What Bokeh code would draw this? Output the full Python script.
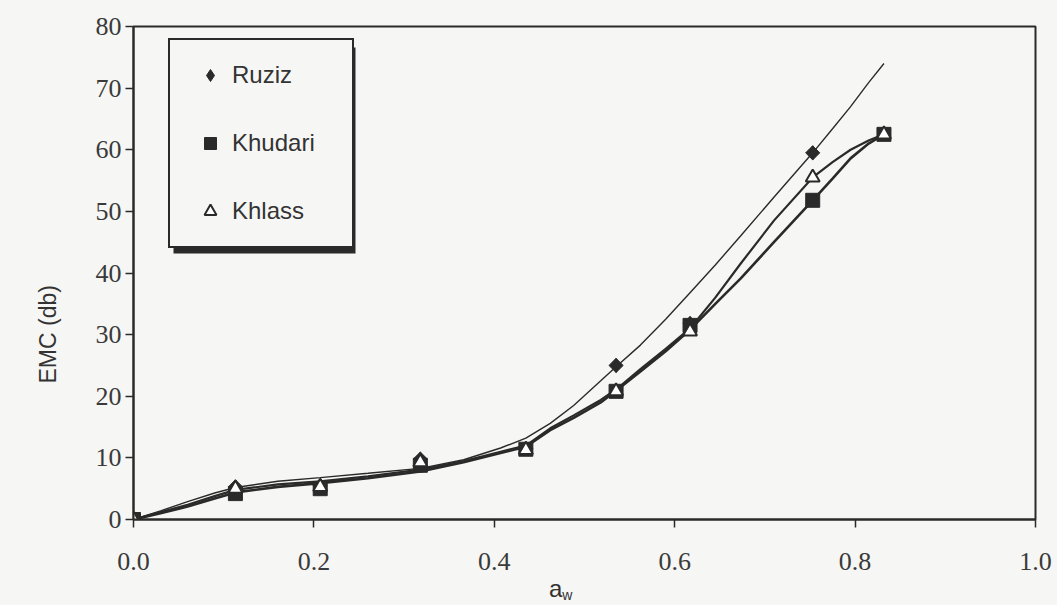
import math
from bokeh.plotting import figure
from bokeh.layouts import column
from bokeh.models import Legend, LegendItem, FixedTicker, BoxAnnotation, Range1d, Title, Div
from bokeh.embed import file_html
from bokeh.resources import INLINE

# ---- data ----
aw_points = [0.0, 0.113, 0.207, 0.318, 0.435, 0.535, 0.617, 0.753, 0.832]
ruziz_pts = [0.0, 5.3, 5.5, 9.8, 11.5, 25.0, 31.8, 59.5, float("nan")]
khudari_pts = [0.0, 4.2, 5.0, 8.8, 11.4, 20.8, 31.5, 51.8, 62.5]
khlass_pts = [0.0, 5.0, 5.3, 9.3, 11.3, 20.8, 30.5, 55.5, 62.5]

# fitted curves
aw_curve = [0.0, 0.03, 0.06, 0.09, 0.113, 0.16, 0.207, 0.26, 0.318, 0.366, 0.407,
            0.435, 0.462, 0.488, 0.518, 0.535, 0.562, 0.59, 0.617, 0.645, 0.673,
            0.71, 0.753, 0.775, 0.795, 0.815, 0.832]
ruziz_curve = [0.0, 1.4, 2.9, 4.3, 5.2, 6.2, 6.8, 7.5, 8.3, 9.7, 11.6,
               13.2, 15.6, 18.5, 22.5, 24.8, 28.3, 32.5, 36.8, 41.3, 46.0,
               52.3, 59.5, 63.4, 67.0, 70.9, 74.0]
khudari_curve = [0.0, 1.0, 2.1, 3.4, 4.4, 5.3, 5.9, 6.7, 7.8, 9.3, 10.8,
                 11.8, 14.5, 16.5, 19.0, 20.9, 24.0, 27.3, 30.8, 35.0, 39.1,
                 45.0, 51.8, 55.3, 58.6, 61.0, 62.5]
khlass_curve = [0.0, 1.2, 2.4, 3.8, 4.8, 5.7, 6.2, 7.0, 8.1, 9.5, 11.0,
                12.0, 14.8, 16.9, 19.4, 21.1, 24.4, 27.7, 31.0, 36.0, 41.5,
                48.5, 55.5, 58.0, 60.0, 61.5, 62.5]

series_names = ["Ruziz", "Khudari", "Khlass"]
x_ticks = [0.0, 0.2, 0.4, 0.6, 0.8, 1.0]
y_ticks = [0, 10, 20, 30, 40, 50, 60, 70, 80]
y_title = "EMC (db)"

BG = "#f6f6f4"
INK = "#2a2a2a"

p = figure(width=1057, height=582, output_backend="svg", toolbar_location=None,
           x_range=Range1d(0, 1.0), y_range=Range1d(0, 80),
           background_fill_color=BG, border_fill_color=BG,
           min_border_left=133, min_border_right=22, min_border_top=26, min_border_bottom=63)
p.grid.visible = False
p.outline_line_color = INK
p.outline_line_width = 2

for ax in (p.xaxis[0], p.yaxis[0]):
    ax.axis_line_color = INK
    ax.axis_line_width = 2
    ax.major_tick_line_color = INK
    ax.major_tick_line_width = 1.5
    ax.major_tick_out = 8
    ax.major_tick_in = 0
    ax.minor_tick_line_color = None
    ax.major_label_text_font = "Liberation Serif"
    ax.major_label_text_font_size = "26px"
    ax.major_label_text_color = "#3a3a3a"

p.xaxis.ticker = FixedTicker(ticks=x_ticks)
p.yaxis.ticker = FixedTicker(ticks=y_ticks)
p.xaxis.major_label_overrides = {t: f"{t:.1f}" for t in x_ticks}
p.xaxis.major_label_standoff = 25
p.yaxis.major_label_standoff = 4

# curves
p.line(aw_curve, ruziz_curve, line_color=INK, line_width=1.4)
p.line(aw_curve, khudari_curve, line_color=INK, line_width=2.6)
p.line(aw_curve, khlass_curve, line_color=INK, line_width=2.2)

# markers (Ruziz: diamond key + rotated square for a wider diamond on the plot)
r1_key = p.scatter(aw_points, ruziz_pts, marker="diamond", size=14, fill_color=INK, line_color=INK)
r1 = p.scatter(aw_points, ruziz_pts, marker="square", angle=math.pi / 4, size=10,
               fill_color=INK, line_color=INK)
r2 = p.scatter(aw_points, khudari_pts, marker="square", size=14, fill_color=INK, line_color=INK)
r3 = p.scatter(aw_points, khlass_pts, marker="triangle", size=14, fill_color="white",
               line_color=INK, line_width=2)

# legend shadow
shadow = BoxAnnotation(left=40, right=222, bottom=266, top=472,
                       left_units="screen", right_units="screen",
                       bottom_units="screen", top_units="screen",
                       fill_color=INK, fill_alpha=1, line_color=None)
p.add_layout(shadow)

legend = Legend(items=[LegendItem(label=series_names[0], renderers=[r1_key]),
                       LegendItem(label=series_names[1], renderers=[r2]),
                       LegendItem(label=series_names[2], renderers=[r3])],
                location=(35, 271), padding=20, spacing=38,
                glyph_width=40, glyph_height=30, label_height=30, label_width=100,
                label_standoff=2,
                label_text_font="Liberation Sans", label_text_font_size="24px",
                label_text_color="#333333",
                border_line_color=INK, border_line_width=2, border_line_alpha=1,
                background_fill_color=BG, background_fill_alpha=1)
p.add_layout(legend)

# y-axis title (offset along the axis like the reference)
p.add_layout(Title(text=y_title, align="left", offset=136, standoff=64,
                   text_font="Liberation Sans", text_font_size="23px",
                   text_font_style="normal", text_color="#333333"), "left")

# x-axis title with subscript, as real HTML text below the figure
xdiv = Div(text='<div style="padding-left:549px;font-family:\'Liberation Sans\';'
                'font-size:24px;line-height:14px;color:#333333;white-space:nowrap;">'
                'a<span style="font-size:14px;position:relative;top:3px;">w</span></div>',
           width=1057, height=23, margin=(0, 0, 0, 0),
           styles={"background-color": BG})

layout = column(p, xdiv, spacing=0, styles={"background-color": BG})
open("out.html", "w").write(file_html(layout, INLINE))
